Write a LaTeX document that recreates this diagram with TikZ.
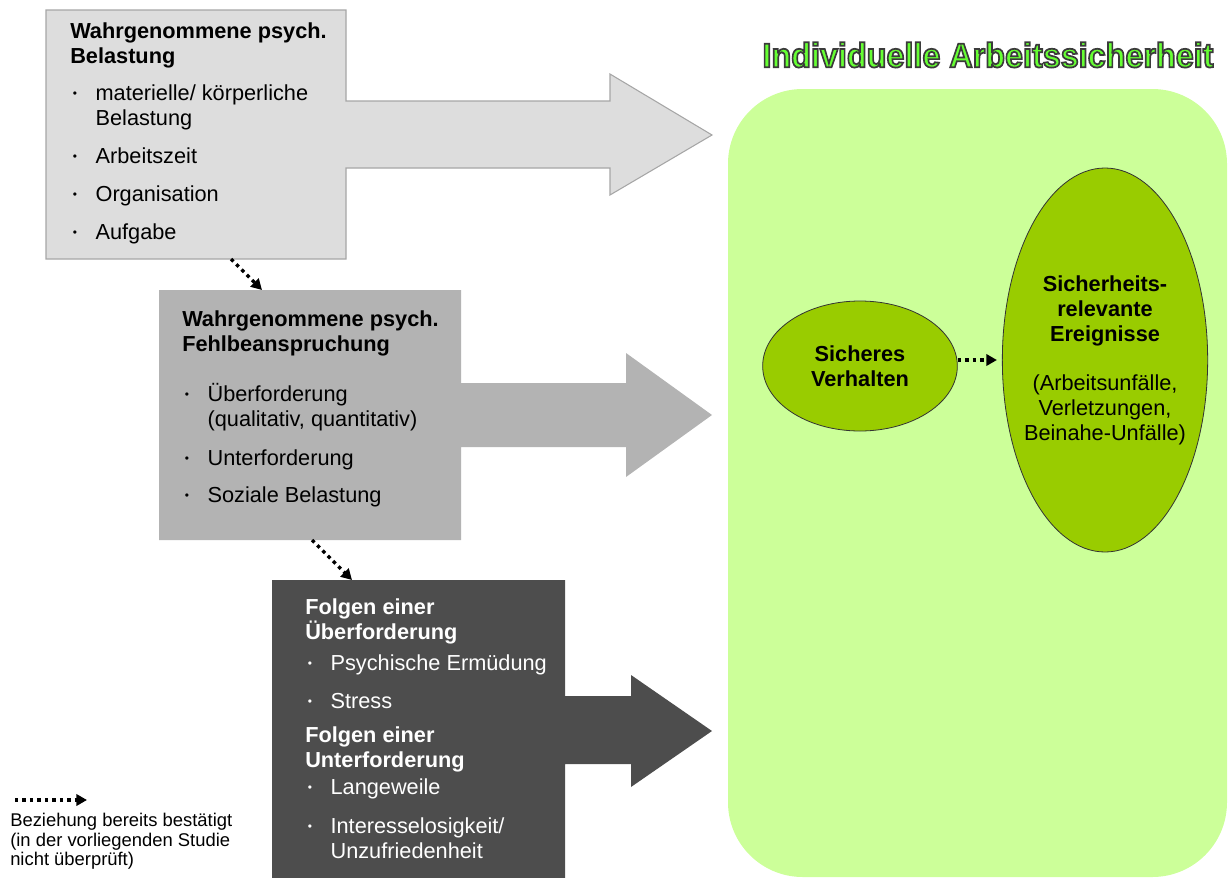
\documentclass[tikz,border=0pt]{standalone}
\usepackage{fontspec}
\setmainfont{Liberation Sans}
\usetikzlibrary{arrows.meta,shapes.geometric}
\definecolor{boxlight}{HTML}{DDDDDD}
\definecolor{boxline}{HTML}{A6A6A6}
\definecolor{boxmid}{HTML}{B3B3B3}
\definecolor{boxdark}{HTML}{4D4D4D}
\definecolor{safebg}{HTML}{CCFF99}
\definecolor{safefill}{HTML}{99CC00}
\definecolor{titlegreen}{HTML}{66FF33}
\newcommand{\bul}{\makebox[19pt][l]{\hspace{2pt}\raisebox{0.25ex}{\scalebox{0.55}{\textbullet}}}}
\newcommand{\cont}{\hspace*{19pt}}
% outlined letters (text render mode 2)
\newcommand{\outlined}[1]{\special{pdf:literal direct 2 Tr 1.3 w 0.23 0.23 0.23 RG}#1\special{pdf:literal direct 0 Tr}}
\tikzset{%
	dotarrow/.style={line width=2.6pt, dash pattern=on 2.6pt off 3pt, line cap=butt,
		-{Triangle[length=8pt,width=8.5pt]}},
	boxtext/.style={anchor=north west, inner sep=0pt, align=left,
		font=\fontsize{16.3}{18.75}\selectfont}
}
\begin{document}
\begin{tikzpicture}[x=0.75pt,y=-0.75pt,
		oval/.style={ellipse, draw=black!80, line width=0.6pt, fill=safefill, inner sep=0pt,
			align=center, font=\fontsize{16.3}{18.75}\selectfont}]
	\useasboundingbox (0,0) rectangle (1228,878);
	% green area
	\fill[safebg, rounded corners=56pt] (728,89) rectangle (1227,877);
	% boxes with arrows
	\draw[boxline, fill=boxlight, line width=0.8pt] (46,10) -- (346,10) -- (346,101) -- (610,101)
		-- (610,74) -- (712,135) -- (610,195) -- (610,168) -- (346,168) -- (346,259) -- (46,259) -- cycle;
	\fill[boxmid] (159,290) -- (461,290) -- (461,383) -- (626,383) -- (626,353) -- (712,415)
		-- (626,477) -- (626,447) -- (461,447) -- (461,540) -- (159,540) -- cycle;
	\fill[boxdark] (272,580) -- (565,580) -- (565,696) -- (631,696) -- (631,675) -- (712,731)
		-- (631,787) -- (631,764) -- (565,764) -- (565,878) -- (272,878) -- cycle;
	\node[boxtext] (t1) at (70,22) {\textbf{Wahrgenommene psych.}\\ \textbf{Belastung}\\[9pt]
		\bul materielle/ körperliche\\ \cont Belastung\\[9.75pt]
		\bul Arbeitszeit\\[9.75pt] \bul Organisation\\[9.75pt] \bul Aufgabe};
	\node[boxtext] (t2) at (182,310) {\textbf{Wahrgenommene psych.}\\ \textbf{Fehlbeanspruchung}\\[18.75pt]
		\bul Überforderung\\ \cont (qualitativ, quantitativ)\\[10.5pt]
		\bul Unterforderung\\[9pt] \bul Soziale Belastung};
	\node[boxtext, text=white] (t3) at (305,598)
		{\textbf{Folgen einer}\\ \textbf{Überforderung}\\[4.5pt] \bul Psychische Ermüdung\\[9.75pt]
		\bul Stress\\[6.75pt] \textbf{Folgen einer}\\ \textbf{Unterforderung}\\[1.5pt]
		\bul Langeweile\\[10.5pt] \bul Interesselosigkeit/\\ \cont Unzufriedenheit};
	% ellipses
	\node[oval, minimum width=146pt, minimum height=97.5pt] (e1) at (860,366)
		{\textbf{Sicheres}\\ \textbf{Verhalten}};
	\node[oval, minimum width=154pt, minimum height=288pt,
		label={[align=center, font=\fontsize{16.3}{18.75}\selectfont]center:\textbf{Sicherheits-}\\
		\textbf{relevante}\\ \textbf{Ereignisse}\\[18pt] (Arbeitsunfälle,\\ Verletzungen,\\ Beinahe-Unfälle)}]
		(e2) at (1105,360) {};
	% dotted relations
	\coordinate (b1s) at (231,259);
	\coordinate (b2n) at (262,290);
	\coordinate (b2s) at (312,540);
	\coordinate (b3n) at (352,580);
	\draw[dotarrow] (b1s) -- (b2n);
	\draw[dotarrow] (b2s) -- (b3n);
	\draw[dotarrow, shorten >=3.75pt] (e1.east |- e2.west) -- (e2.west);
	% legend
	\coordinate (lgA) at (15,800);
	\coordinate (lgB) at (87,800);
	\draw[dotarrow] (lgA) -- (lgB);
	\node[boxtext, font=\fontsize{13.8}{14.6}\selectfont] (legend) at (10,813)
		{Beziehung bereits bestätigt\\ (in der vorliegenden Studie\\ nicht überprüft)};
	% title
	\node[font=\bfseries\fontsize{25.8}{30}\selectfont, text=titlegreen] (title) at (988,55)
		{\scalebox{0.94}[1]{\outlined{Individuelle Arbeitssicherheit}}};
\end{tikzpicture}
\end{document}
